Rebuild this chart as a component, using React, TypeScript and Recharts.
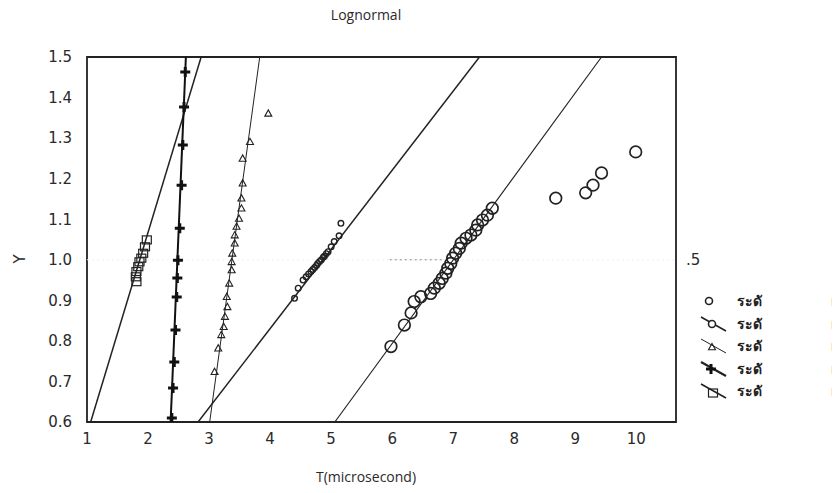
import {
  ComposedChart,
  Scatter,
  XAxis,
  YAxis,
  ReferenceLine,
  ReferenceArea,
  Legend,
} from "recharts";

// axis ticks
const xTicks = [1, 2, 3, 4, 5, 6, 7, 8, 9, 10];
const yTicks = [0.6, 0.7, 0.8, 0.9, 1.0, 1.1, 1.2, 1.3, 1.4, 1.5];

// large circles
const bigT = [5.98, 6.2, 6.31, 6.36, 6.47, 6.63, 6.69, 6.77, 6.82, 6.88, 6.91, 6.96, 6.99, 7.04, 7.1, 7.13, 7.21, 7.29, 7.37, 7.4, 7.48, 7.56, 7.64, 8.68, 9.17, 9.29, 9.43, 9.99];
const bigY = [0.786, 0.839, 0.869, 0.897, 0.909, 0.917, 0.93, 0.942, 0.954, 0.967, 0.979, 0.991, 1.004, 1.016, 1.028, 1.041, 1.053, 1.061, 1.073, 1.086, 1.098, 1.11, 1.127, 1.152, 1.165, 1.184, 1.214, 1.266];

// small circles
const smallT = [4.4, 4.46, 4.54, 4.59, 4.63, 4.67, 4.7, 4.73, 4.76, 4.78, 4.81, 4.84, 4.87, 4.89, 4.92, 4.95, 5.0, 5.05, 5.13, 5.16];
const smallY = [0.905, 0.93, 0.95, 0.958, 0.965, 0.971, 0.976, 0.981, 0.986, 0.991, 0.996, 1.0, 1.006, 1.009, 1.015, 1.02, 1.032, 1.045, 1.059, 1.09];

// triangles
const triT = [3.97, 3.67, 3.55, 3.55, 3.53, 3.53, 3.49, 3.45, 3.42, 3.42, 3.38, 3.37, 3.37, 3.33, 3.29, 3.3, 3.26, 3.24, 3.2, 3.15, 3.09];
const triY = [1.361, 1.291, 1.25, 1.189, 1.152, 1.127, 1.102, 1.082, 1.061, 1.041, 1.016, 0.995, 0.975, 0.942, 0.909, 0.884, 0.86, 0.835, 0.815, 0.782, 0.724];

// plus markers
const plusT = [2.61, 2.59, 2.57, 2.55, 2.52, 2.49, 2.48, 2.47, 2.45, 2.43, 2.41, 2.39];
const plusY = [1.463, 1.377, 1.283, 1.184, 1.078, 0.999, 0.955, 0.908, 0.827, 0.748, 0.684, 0.61];

// squares
const sqT = [1.98, 1.95, 1.92, 1.89, 1.86, 1.84, 1.81, 1.8, 1.81];
const sqY = [1.049, 1.032, 1.016, 1.004, 0.995, 0.983, 0.971, 0.958, 0.946];

// fitted lines: t at y = 0.6 and y = 1.5
const fitY = [0.6, 1.5];
const fitSquareT = [1.06, 2.87];
const fitPlusT = [2.37, 2.62];
const fitTriT = [3.01, 3.83];
const fitSmallT = [2.82, 7.43];
const fitBigT = [5.06, 9.43];

// dotted mark at Y = 1.0
const midDotT = [5.96, 6.86];

const legendKinds = ["circle", "circleLine", "triLine", "plusLine", "squareLine"];
const legendLabel = "ระดั";

const zip = (ts: number[], ys: number[]) => ts.map((t, i) => ({ t, y: ys[i] }));
const seg = (ts: number[]) => [
  { x: ts[0], y: fitY[0] },
  { x: ts[1], y: fitY[1] },
];

const INK = "#222";

const BigCircle = (p: any) => (
  <circle cx={p.cx} cy={p.cy} r={5.8} fill="none" stroke={INK} strokeWidth={1.7} />
);
const SmallCircle = (p: any) => (
  <circle cx={p.cx} cy={p.cy} r={2.8} fill="none" stroke={INK} strokeWidth={1.4} />
);
const Tri = (p: any) => (
  <path
    d={`M${p.cx},${p.cy - 3.5} L${p.cx + 3.5},${p.cy + 2.8} L${p.cx - 3.5},${p.cy + 2.8} Z`}
    fill="none"
    stroke={INK}
    strokeWidth={1.1}
  />
);
const Plus = (p: any) => (
  <path
    d={`M${p.cx - 5},${p.cy} H${p.cx + 5} M${p.cx},${p.cy - 5} V${p.cy + 5}`}
    stroke="#111"
    strokeWidth={3}
  />
);
const Square = (p: any) => (
  <rect x={p.cx - 4.5} y={p.cy - 4} width={9} height={8} fill="none" stroke={INK} strokeWidth={1.2} />
);

function LegendSymbol({ kind }: { kind: string }) {
  const cx = 12;
  const cy = 11;
  const line =
    kind === "circle" ? null : (
      <line
        x1={1}
        y1={4}
        x2={26}
        y2={18}
        stroke={INK}
        strokeWidth={kind === "triLine" ? 1 : kind === "plusLine" ? 2.2 : 1.6}
      />
    );
  let mark = null;
  if (kind === "circle") mark = <circle cx={cx - 3} cy={cy} r={3.5} fill="#fff" stroke={INK} strokeWidth={1.6} />;
  if (kind === "circleLine") mark = <circle cx={cx} cy={cy} r={3.5} fill="#fff" stroke={INK} strokeWidth={1.6} />;
  if (kind === "triLine") mark = <Tri cx={cx} cy={cy + 1} />;
  if (kind === "plusLine") mark = <Plus cx={cx - 1} cy={cy} />;
  if (kind === "squareLine") mark = <Square cx={cx + 1} cy={cy + 2} />;
  return (
    <svg width={28} height={22} style={{ display: "block" }}>
      {line}
      {mark}
    </svg>
  );
}

function LegendBox() {
  return (
    <div style={{ width: 160, fontFamily: "'Noto Sans', 'DejaVu Sans', sans-serif", fontSize: 14, fontWeight: 700, color: INK }}>
      {legendKinds.map((k) => (
        <div key={k} style={{ position: "relative", height: 22.5, display: "flex", alignItems: "center" }}>
          <LegendSymbol kind={k} />
          <span style={{ marginLeft: 9 }}>{legendLabel}</span>
          <span style={{ position: "absolute", left: 131, top: 1 }}>ı</span>
        </div>
      ))}
    </div>
  );
}

const tickStyle = { fontFamily: "DejaVu Sans", fontSize: 15, fill: "#2a2a2a" };

export default function App() {
  return (
    <div style={{ margin: -8 }}>
      <div style={{ position: "relative", width: 840, height: 493, overflow: "hidden", background: "#fff", fontFamily: "DejaVu Sans", color: "#2a2a2a" }}>
        <div style={{ position: "absolute", left: 266, width: 200, top: 5, textAlign: "center", fontSize: 14, fontFamily: "'Open Sans', sans-serif" }}>
          Lognormal
        </div>
        <div style={{ position: "absolute", left: 266, width: 200, top: 467, textAlign: "center", fontSize: 14, fontFamily: "'Open Sans', sans-serif" }}>
          T(microsecond)
        </div>
        <div style={{ position: "absolute", left: 15, top: 250, fontSize: 15, transform: "rotate(-90deg)" }}>Y</div>
        <ComposedChart width={840} height={493} margin={{ top: 57, right: 164, bottom: 41, left: 32 }}>
          <XAxis
            type="number"
            dataKey="t"
            domain={[1, 10.65]}
            ticks={xTicks}
            allowDataOverflow
            axisLine={false}
            tickLine={false}
            tickSize={6}
            tickMargin={5}
            height={30}
            tick={tickStyle}
          />
          <YAxis
            type="number"
            dataKey="y"
            domain={[0.6, 1.5]}
            ticks={yTicks}
            allowDataOverflow
            axisLine={false}
            tickLine={false}
            tickSize={6}
            tickMargin={9}
            width={55}
            tick={tickStyle}
            tickFormatter={(v: number) => v.toFixed(1)}
          />
          <ReferenceLine y={1} stroke="#f0f0f0" strokeDasharray="2 3" label={{ value: ".5", position: "right", offset: 10, fill: "#2a2a2a", fontSize: 15, fontFamily: "DejaVu Sans" }} />
          <ReferenceLine segment={[{ x: midDotT[0], y: 1 }, { x: midDotT[1], y: 1 }]} stroke="#888" strokeDasharray="2 3" />
          <ReferenceLine segment={seg(fitSquareT)} stroke={INK} strokeWidth={1.5} ifOverflow="hidden" />
          <ReferenceLine segment={seg(fitPlusT)} stroke="#111" strokeWidth={2} ifOverflow="hidden" />
          <ReferenceLine segment={seg(fitTriT)} stroke={INK} strokeWidth={1} ifOverflow="hidden" />
          <ReferenceLine segment={seg(fitSmallT)} stroke={INK} strokeWidth={1.5} ifOverflow="hidden" />
          <ReferenceLine segment={seg(fitBigT)} stroke={INK} strokeWidth={1.1} ifOverflow="hidden" />
          <ReferenceArea x1={1} x2={10.65} y1={0.6} y2={1.5} fill="none" fillOpacity={0} stroke={INK} strokeWidth={1.8} />
          <Scatter data={zip(sqT, sqY)} shape={Square} isAnimationActive={false} />
          <Scatter data={zip(plusT, plusY)} shape={Plus} isAnimationActive={false} />
          <Scatter data={zip(triT, triY)} shape={Tri} isAnimationActive={false} />
          <Scatter data={zip(smallT, smallY)} shape={SmallCircle} isAnimationActive={false} />
          <Scatter data={zip(bigT, bigY)} shape={BigCircle} isAnimationActive={false} />
          <Legend
            layout="horizontal"
            verticalAlign="middle"
            align="center"
            content={() => <LegendBox />}
            wrapperStyle={{ position: "absolute", left: 700, top: 290, width: 160 }}
          />
        </ComposedChart>
      </div>
    </div>
  );
}
